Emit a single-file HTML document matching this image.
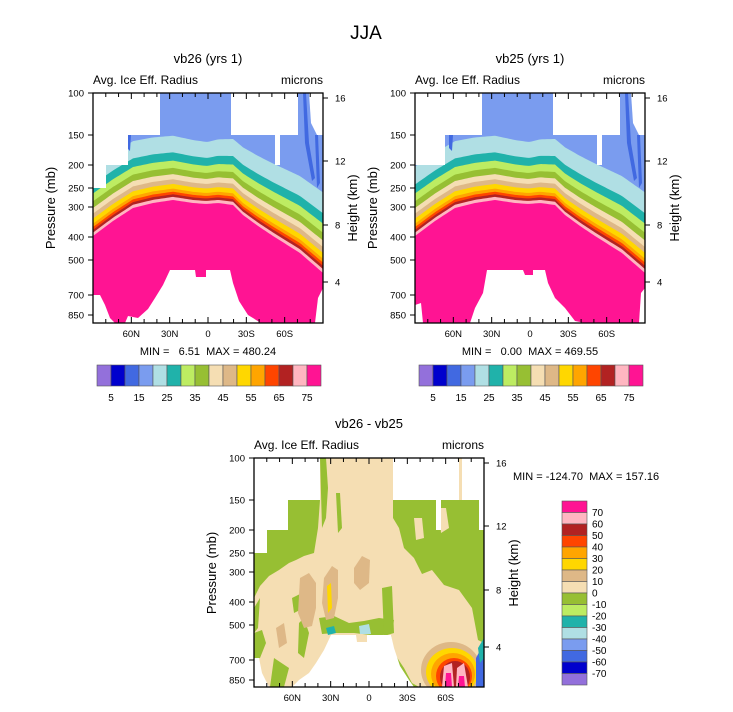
<!DOCTYPE html>
<html><head><meta charset="utf-8">
<style>
html,body{margin:0;padding:0;background:#fff;}
svg{display:block;font-family:"Liberation Sans",Arial,sans-serif;}
.pre{white-space:pre;}
</style></head>
<body>
<svg id="s" width="733" height="712" viewBox="0 0 733 712" xmlns="http://www.w3.org/2000/svg">
<text x="366" y="39" font-size="19" text-anchor="middle">JJA</text>
</svg>
<script>
const NS="http://www.w3.org/2000/svg";
const S=document.getElementById('s');
function el(tag,attrs,parent,text){const e=document.createElementNS(NS,tag);for(const k in attrs)e.setAttribute(k,attrs[k]);if(text!==undefined)e.textContent=text;(parent||S).appendChild(e);return e;}
const C={purple:'#9370db',mblue:'#0000cd',rblue:'#4169e1',cblue:'#7a9cef',lblue:'#b0dfe4',teal:'#20b2aa',lgreen:'#bdec62',olive:'#97bf33',wheat:'#f5deb3',tan:'#deb887',gold:'#ffd700',orange:'#ffa500',ored:'#ff4500',fire:'#b22222',lpink:'#ffb6c1',pink:'#ff1493'};
const bar=[C.purple,C.mblue,C.rblue,C.cblue,C.lblue,C.teal,C.lgreen,C.olive,C.wheat,C.tan,C.gold,C.orange,C.ored,C.fire,C.lpink,C.pink];
function interp(pts,x){for(let i=0;i<pts.length-1;i++){if(x>=pts[i][0]&&x<=pts[i+1][0]){const t=(x-pts[i][0])/(pts[i+1][0]-pts[i][0]);return pts[i][1]+t*(pts[i+1][1]-pts[i][1]);}}return pts[pts.length-1][1];}
function poly(g,pts,fill){el('polygon',{points:pts.map(p=>p.join(',')).join(' '),fill:fill},g);}
function axes(ox,oy,W,H,title){
  const g=el('g',{});
  el('text',{x:ox+W/2,y:oy-30,'font-size':13,'text-anchor':'middle'},g,title);
  el('text',{x:ox,y:oy-9,'font-size':12},g,'Avg. Ice Eff. Radius');
  el('text',{x:ox+W,y:oy-9,'font-size':12,'text-anchor':'end'},g,'microns');
  el('rect',{x:ox,y:oy,width:W,height:H,fill:'none',stroke:'#000','stroke-width':1.3},g);
  const py=[[100,0],[150,42],[200,72],[250,95],[300,114],[400,144],[500,167],[700,202],[850,222]];
  py.forEach(p=>{el('line',{x1:ox-5,y1:oy+p[1],x2:ox,y2:oy+p[1],stroke:'#000'},g);el('text',{x:ox-9,y:oy+p[1]+3.5,'font-size':9.5,'text-anchor':'end'},g,p[0]);});
  [[16,5],[12,68],[8,132],[4,189]].forEach(p=>{el('line',{x1:ox+W,y1:oy+p[1],x2:ox+W+5,y2:oy+p[1],stroke:'#000'},g);el('text',{x:ox+W+12,y:oy+p[1]+3.5,'font-size':9.5},g,p[0]);});
  for(let i=1;i<18;i++){const x=ox+W*i/18;const maj=(i%3==0);
    el('line',{x1:x,y1:oy,x2:x,y2:oy+(maj?6:4),stroke:'#000'},g);
    el('line',{x1:x,y1:oy+H,x2:x,y2:oy+H-(maj?6:4),stroke:'#000'},g);}
  ['60N','30N','0','30S','60S'].forEach((l,i)=>{el('text',{x:ox+W*(i+1)/6,y:oy+H+14,'font-size':9.5,'text-anchor':'middle'},g,l);});
  el('text',{transform:`translate(${ox-38},${oy+W/2}) rotate(-90)`,'font-size':13,'text-anchor':'middle'},g,'Pressure (mb)');
  el('text',{transform:`translate(${ox+W+34},${oy+W/2}) rotate(-90)`,'font-size':13,'text-anchor':'middle'},g,'Height (km)');
}
function topPanel(ox,oy,variant){
  const W=230,H=230;
  const g=el('g',{transform:`translate(${ox},${oy})`});
  const cp=el('clipPath',{id:'c'+ox},g);el('rect',{x:0,y:0,width:W,height:H},cp);
  const gg=el('g',{'clip-path':`url(#c${ox})`},g);
  el('rect',{x:0,y:0,width:W,height:H,fill:C.cblue},gg);
  const base=[[0,143],[20,128],[40,115],[60,110],[80,107],[100,110],[113,111],[125,110],[140,112],[150,122],[165,133],[180,143],[207,160],[230,180]];
  const layers=[[62,C.lblue],[46,C.teal],[38,C.lgreen],[31,C.olive],[25,C.wheat],[20,C.tan],[15.5,C.gold],[11,C.orange],[8,C.ored],[5.5,C.fire],[3,C.lpink],[0,C.pink]];
  layers.forEach(([o,c])=>{const pts=[];for(let x=0;x<=W;x+=2){const s=x<115?1+(115-x)/115*0.12:1+(x-115)/115*0.3;pts.push([x,interp(base,x)-o*s]);}pts.push([W,H],[0,H]);poly(gg,pts,c);});
  poly(gg,[[210,0],[213,0],[216,50],[222,85],[219,88],[212,50]],C.rblue);
  poly(gg,[[222,42],[225,42],[227,90],[224,95]],C.rblue);
  poly(gg,[[34,42],[38,42],[37,58],[34,55]],C.rblue);
  const wm=[];
  if(variant==1){wm.push([[0,0],[67,0],[67,42],[35,42],[35,72],[13,72],[13,95],[0,95]]);}
  else{wm.push([[0,0],[67,0],[67,42],[30,42],[30,72],[0,72]]);}
  wm.push([[138,0],[205,0],[205,42],[187,42],[187,72],[182,72],[182,42],[138,42]]);
  wm.push([[216,0],[230,0],[230,42],[224,42],[218,30]]);
  if(variant==1){
    wm.push([[0,230],[0,202],[7,202],[12,212],[17,225],[22,230]]);
    wm.push([[32,230],[35,223],[45,225],[55,216],[62,205],[70,192],[77,177],[102,177],[103,184],[113,184],[113,177],[137,177],[140,190],[146,208],[155,222],[168,230]]);
    wm.push([[222,230],[225,205],[230,195],[230,230]]);
  } else {
    wm.push([[0,212],[6,210],[8,230],[0,230]]);
    wm.push([[55,230],[60,215],[68,200],[72,177],[108,177],[110,182],[118,182],[118,177],[130,177],[133,190],[140,205],[150,215],[160,228],[170,230]]);
    wm.push([[224,230],[226,200],[230,195],[230,230]]);
  }
  wm.forEach(p=>poly(gg,p,'#fff'));
  axes(ox,oy,W,H,variant==1?'vb26 (yrs 1)':'vb25 (yrs 1)');
  const bx=ox+4,by=365,bw=14;
  bar.forEach((c,i)=>el('rect',{x:bx+i*bw,y:by,width:bw,height:21,fill:c,stroke:'#555','stroke-width':0.6}));
  for(let k=0;k<8;k++){el('text',{x:bx+bw*(2*k+1),y:by+36,'font-size':10,'text-anchor':'middle'},S,5+10*k);}
  el('text',{x:ox+W/2,y:355,'font-size':11,'text-anchor':'middle','class':'pre'},S,variant==1?'MIN =   6.51  MAX = 480.24':'MIN =   0.00  MAX = 469.55');
}
topPanel(93,93,1);
topPanel(415,93,2);
(function(){
  const ox=254,oy=458,W=230,H=229;
  const g=el('g',{transform:`translate(${ox},${oy})`});
  const cp=el('clipPath',{id:'cb'},g);el('rect',{x:0,y:0,width:W,height:H},cp);
  const gg=el('g',{'clip-path':'url(#cb)'},g);
  el('rect',{x:0,y:0,width:W,height:H,fill:C.wheat},gg);
  poly(gg,[[13,72],[34,72],[34,42],[66,42],[64,70],[60,95],[50,98],[42,102],[35,105],[25,112],[15,118],[6,128],[0,140],[0,95],[13,95]],C.olive);
  poly(gg,[[0,150],[6,140],[4,170],[0,175]],C.olive);
  poly(gg,[[66,0],[72,0],[74,30],[72,60],[68,70]],C.olive);
  poly(gg,[[82,35],[86,35],[88,70],[84,75]],C.olive);
  poly(gg,[[139,42],[228,42],[230,64],[230,185],[224,182],[218,150],[205,132],[190,127],[178,112],[168,116],[160,100],[150,90],[145,70],[139,60]],C.olive);
  poly(gg,[[160,60],[168,60],[170,80],[162,82]],C.wheat);
  poly(gg,[[185,50],[192,50],[195,70],[187,75]],C.wheat);
  poly(gg,[[65,160],[80,158],[95,165],[110,163],[125,160],[140,162],[138,175],[125,178],[100,175],[80,175],[68,176]],C.olive);
  poly(gg,[[128,130],[138,128],[140,175],[130,178]],C.olive);
  poly(gg,[[130,178],[137,177],[140,195],[150,210],[158,225],[165,229],[148,229]],C.olive);
  poly(gg,[[0,175],[8,172],[12,185],[6,200],[0,200]],C.olive);
  poly(gg,[[20,200],[35,210],[30,229],[16,229]],C.olive);
  poly(gg,[[45,165],[50,160],[55,175],[50,200],[44,195]],C.olive);
  poly(gg,[[38,140],[48,135],[50,150],[40,155]],C.olive);
  poly(gg,[[46,120],[55,115],[62,125],[62,150],[58,168],[50,170],[44,155]],C.tan);
  poly(gg,[[70,120],[78,108],[84,112],[84,140],[80,160],[72,162],[68,145]],C.tan);
  poly(gg,[[73,128],[77,125],[78,150],[74,155]],C.gold);
  poly(gg,[[100,110],[108,98],[116,102],[115,125],[106,132],[100,125]],C.tan);
  poly(gg,[[22,170],[30,165],[33,185],[25,190]],C.tan);
  el('ellipse',{cx:197,cy:212,rx:30,ry:28,fill:C.tan},gg);
  el('ellipse',{cx:198,cy:214,rx:26,ry:24,fill:C.gold},gg);
  el('ellipse',{cx:199,cy:216,rx:22,ry:21,fill:C.orange},gg);
  el('ellipse',{cx:200,cy:218,rx:18,ry:18,fill:C.ored},gg);
  el('ellipse',{cx:201,cy:219,rx:15,ry:16,fill:C.fire},gg);
  poly(gg,[[190,208],[198,205],[200,229],[188,229]],C.lpink);
  poly(gg,[[203,210],[210,205],[214,229],[202,229]],C.lpink);
  poly(gg,[[192,215],[197,215],[198,229],[191,229]],C.pink);
  poly(gg,[[205,218],[210,218],[211,229],[204,229]],C.pink);
  poly(gg,[[222,200],[230,185],[230,229],[222,229]],C.rblue);
  poly(gg,[[224,190],[230,180],[230,200],[226,205]],C.teal);
  poly(gg,[[72,170],[80,168],[82,175],[74,177]],C.teal);
  poly(gg,[[105,168],[115,166],[117,176],[106,176]],C.lblue);
  [[[0,0],[66,0],[66,42],[34,42],[34,72],[13,72],[13,95],[0,95]],
   [[139,0],[205,0],[205,42],[187,42],[187,72],[182,72],[182,42],[139,42]],
   [[208,0],[230,0],[230,42],[208,42]],
   [[225,42],[230,42],[230,72],[225,72]],
   [[0,200],[5,200],[8,215],[15,229],[0,229]],
   [[38,229],[45,222],[55,215],[62,205],[70,192],[77,177],[102,177],[103,184],[113,184],[113,177],[137,177],[140,190],[146,208],[155,222],[160,229]]
  ].forEach(p=>poly(gg,p,'#fff'));
  axes(ox,oy,W,H,'vb26 - vb25');
  el('text',{x:513,y:480,'font-size':11,'class':'pre'},S,'MIN = -124.70  MAX = 157.16');
  const bx=562,by=501,bh=11.5;
  const rev=bar.slice().reverse();
  rev.forEach((c,i)=>el('rect',{x:bx,y:by+i*bh,width:25,height:bh,fill:c,stroke:'#555','stroke-width':0.6}));
  for(let k=0;k<15;k++){el('text',{x:592,y:by+bh*(k+1)+3.5,'font-size':10},S,70-10*k);}
})();
</script>
</body></html>
